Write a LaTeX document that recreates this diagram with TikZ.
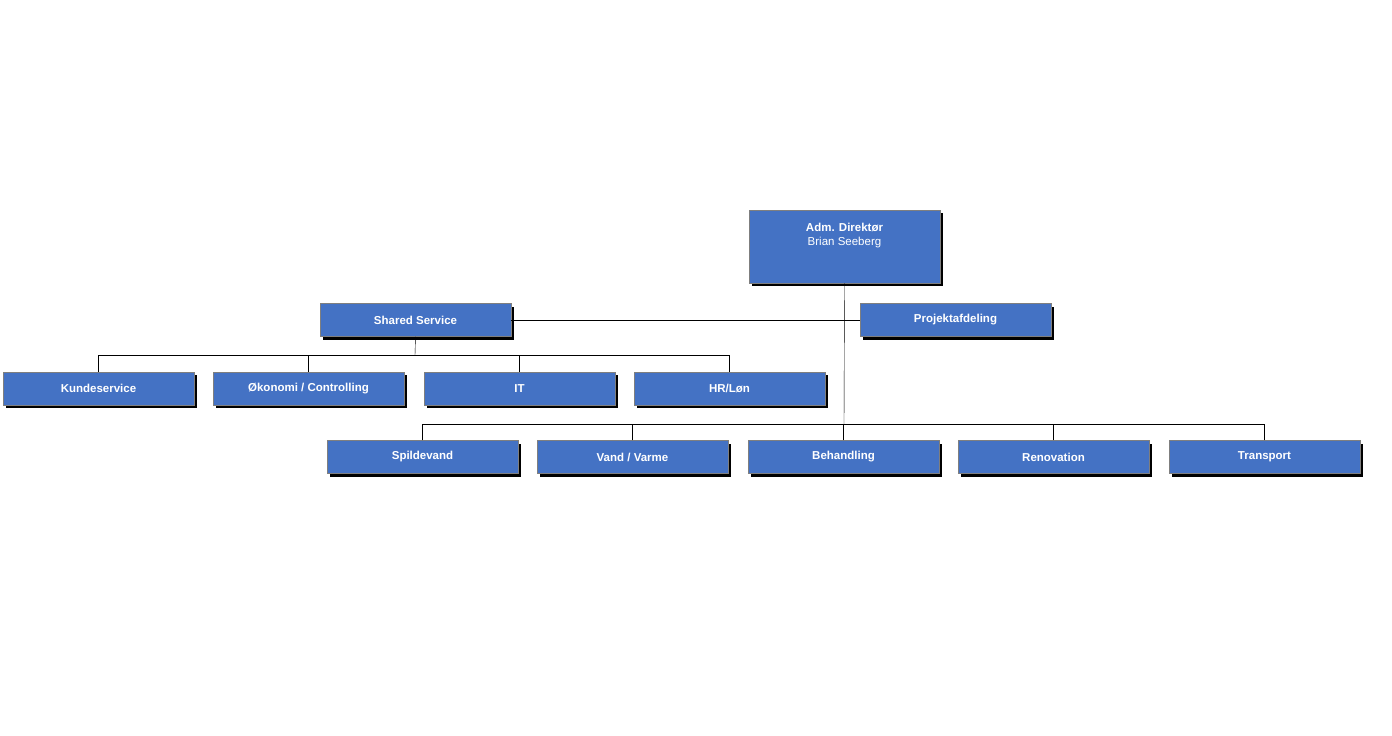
\documentclass[tikz,border=0pt]{standalone}
\usepackage{fontspec}
\setmainfont{Liberation Sans}
\usetikzlibrary{shadows}
\definecolor{boxBlue}{HTML}{4472C4}
\definecolor{boxEdge}{HTML}{7F7F7F}
\begin{document}
\begin{tikzpicture}[%%
  x=1pt,y=-1pt,
  boxStyle/.style={draw=boxEdge,fill=boxBlue,text=white,font=\bfseries\fontsize{11.5}{13}\selectfont,
    minimum width=191pt,minimum height=33pt,inner sep=0pt,
    drop shadow={shadow xshift=3pt,shadow yshift=-3pt,fill=black,opacity=1}},
  lineStyle/.style={-,thin,black}
]
\useasboundingbox (0,0) rectangle (1392,736);
%% Top of the chart.
\node[boxStyle,minimum height=73pt] (dir) at (844.5,246.5) {};
\node[text=white,font=\fontsize{11.5}{13}\selectfont,align=center] at (844.5,236)
  {\textbf{Adm. Direkt\o r}\\[1pt]Brian Seeberg};
\node[boxStyle] (shared) at (415.5,320) {Shared Service};
\node[boxStyle] (proj) at (955.5,320) {Projektafdeling};
%% Shared service units.
\node[boxStyle] (kunde) at (98.5,388.5) {Kundeservice};
\node[boxStyle] (oko) at (308.5,388.5) {\O konomi / Controlling};
\node[boxStyle] (it) at (519.5,388.5) {IT};
\node[boxStyle] (hr) at (729.5,388.5) {HR/L\o n};
%% Business units.
\node[boxStyle] (spild) at (422.5,457) {Spildevand};
\node[boxStyle] (vand) at (632.5,457) {Vand / Varme};
\node[boxStyle] (behand) at (843.5,457) {Behandling};
\node[boxStyle] (renov) at (1053.5,457) {Renovation};
\node[boxStyle] (trans) at (1264.5,457) {Transport};
%%
\coordinate (busA) at (844,424);
\coordinate (busB) at (415,355);
\begin{scope}[on background layer/.try]
\draw[lineStyle] (dir.south) -- (busA);
\draw[lineStyle] (shared.east) -- (proj.west);
\draw[lineStyle] (shared.south) -- (busB);
\foreach \n in {kunde,oko,it,hr}
  \draw[lineStyle] (\n.north) |- (busB);
\foreach \n in {spild,vand,behand,renov,trans}
  \draw[lineStyle] (\n.north) |- (busA);
\end{scope}
\end{tikzpicture}
\end{document}
